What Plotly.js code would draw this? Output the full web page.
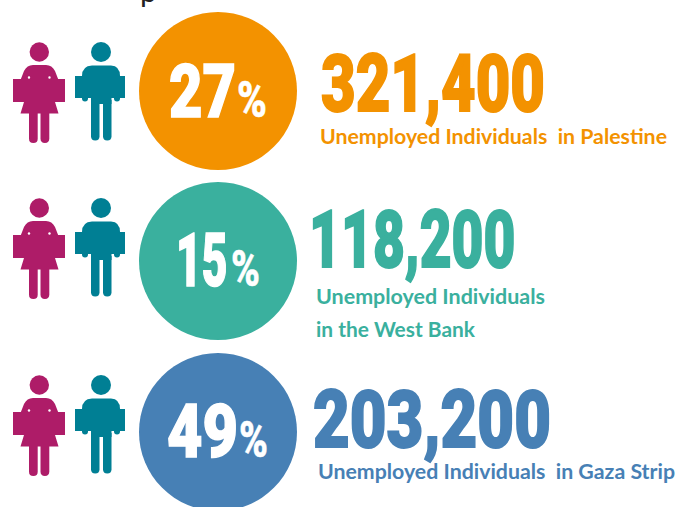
<!DOCTYPE html>
<html><head><meta charset="utf-8">
<script src="https://cdn.plot.ly/plotly-3.0.1.min.js"></script>
<style>html,body{margin:0;padding:0;background:#fff;overflow:hidden}</style>
</head><body><div id="chart" style="width:676px;height:507px"></div>
<script>
// Data
const percents = ["27", "15", "49"];
const counts = ["321,400", "118,200", "203,200"];
const captions = [
  ["Unemployed Individuals  in Palestine"],
  ["Unemployed Individuals", "in the West Bank"],
  ["Unemployed Individuals  in Gaza Strip"]
];
const colors = ["#F39200", "#3AB09E", "#4780B5"];
const womanColor = "#AE1C68", manColor = "#007F94";
// Layout positions (pixels)
const circleX = 218, circleY = [91, 261, 432], circleD = 158;
const iconOffset = [0, 156, 333];
const pctX = [169, 175.5, 167], pctW = [67, 51.5, 71], pctY = [91, 260, 431];
const signX = [236.5, 230.5, 238.5], signW = [30, 29, 29];
const countX = [320.5, 308.5, 312.5], countW = [224, 206.5, 238], countY = [84, 240, 420];
const capX = [320, 315.5, 318];
const capW = [[347], [229, 159], [357]];
const capY = [[136], [296, 329], [471]];

const shapes = [];
function p(d, col){ shapes.push({type:"path", xref:"x", yref:"y", path:d, fillcolor:col, line:{width:0}, layer:"above"}); }
function c(x,y,r,col){ shapes.push({type:"circle", xref:"x", yref:"y", x0:x-r, x1:x+r, y0:y-r, y1:y+r, fillcolor:col, line:{width:0}, layer:"above"}); }
function leg(x0,x1,top,bot,col,o){
  const m=(x0+x1)/2, r=(x1-x0)/2;
  p(`M${x0},${top+o} L${x1},${top+o} L${x1},${bot-r+o} Q${x1},${bot+o} ${m},${bot+o} Q${x0},${bot+o} ${x0},${bot-r+o} Z`, col);
}
iconOffset.forEach(o=>{
  // woman
  c(39.3,52+o,9.7,womanColor);
  p(`M33,${65+o} L46,${65+o} Q52,${65+o} 55,${71+o} L58.5,${80+o} L58.5,${102+o} L55,${102+o} L58.5,${113.5+o} L20.5,${113.5+o} L24,${102+o} L20.5,${102+o} L20.5,${80+o} L24,${71+o} Q27,${65+o} 33,${65+o} Z`, womanColor);
  p(`M13,${79+o} L65,${79+o} L65,${102+o} L13,${102+o} Z`, womanColor);
  leg(29,37.7,113,143,womanColor,o);
  leg(40.5,49.3,113,143,womanColor,o);
  c(29,77.5+o,1.2,"#fff"); c(49.5,77.5+o,1.2,"#fff");
  // man
  c(101,52+o,10,manColor);
  p(`M92,${65.5+o} L111,${65.5+o} Q120,${66+o} 120,${76+o} L120,${98+o} L82,${98+o} L82,${76+o} Q82,${66+o} 92,${65.5+o} Z`, manColor);
  p(`M75,${76+o} L125,${76+o} L125,${98+o} L75,${98+o} Z`, manColor);
  p(`M91,${97+o} L111.5,${97+o} L111.5,${104+o} L91,${104+o} Z`, manColor);
  leg(82,88,97,101.5,manColor,o);
  leg(114,120,97,101.5,manColor,o);
  leg(91,99.5,100,140.5,manColor,o);
  leg(103,111.5,100,140.5,manColor,o);
});

const traces = percents.map((v,i)=>({
  type:"scatter", mode:"markers", x:[circleX], y:[circleY[i]],
  marker:{size:circleD, color:colors[i], line:{width:0}}, hoverinfo:"skip", showlegend:false, cliponaxis:true
}));

const annotations = [], fits = [], strokes = [];
function ann(x,y,text,font,anchor,w,s){
  fits.push(w||0); strokes.push(s||0);
  annotations.push({xref:"x", yref:"y", x, y, text, showarrow:false, xanchor:"left", yanchor:anchor||"middle",
    borderpad:0, borderwidth:0, align:"left", font});
}
percents.forEach((v,i)=>{
  ann(pctX[i], pctY[i], v, {family:"Roboto", size:74, weight:900, color:"#fff"}, "middle", pctW[i], 1.5);
  ann(signX[i], pctY[i]+8.5, "%", {family:"Roboto", size:50, weight:900, color:"#fff"}, "middle", signW[i], 0.4);
  ann(countX[i], countY[i], counts[i], {family:"Roboto", size:79, weight:900, color:colors[i]}, "middle", countW[i], 1.8);
  captions[i].forEach((t,j)=>ann(capX[i], capY[i][j], t.replace(/  /g," \u00a0"), {family:"Lato", size:20.5, weight:700, color:colors[i]}, "middle", capW[i][j]));
});
ann(140, 8, "p", {family:"Lato", size:30, color:"#222"}, "bottom", 0);

Plotly.newPlot("chart", traces, {
  width:676, height:507, margin:{l:0,r:0,t:0,b:0}, paper_bgcolor:"#fff", plot_bgcolor:"#fff",
  xaxis:{range:[0,676], visible:false, fixedrange:true},
  yaxis:{range:[507,0], visible:false, fixedrange:true},
  showlegend:false, shapes, annotations
}, {displayModeBar:false, staticPlot:true}).then(gd=>{
  gd.querySelectorAll(".annotation-text").forEach((el,i)=>{
    if(fits[i]){ el.setAttribute("textLength", fits[i]); el.setAttribute("lengthAdjust","spacingAndGlyphs"); }
    if(strokes[i]){ el.style.stroke = el.style.fill; el.style.strokeWidth = strokes[i]+"px"; }
  });
});
</script></body></html>
